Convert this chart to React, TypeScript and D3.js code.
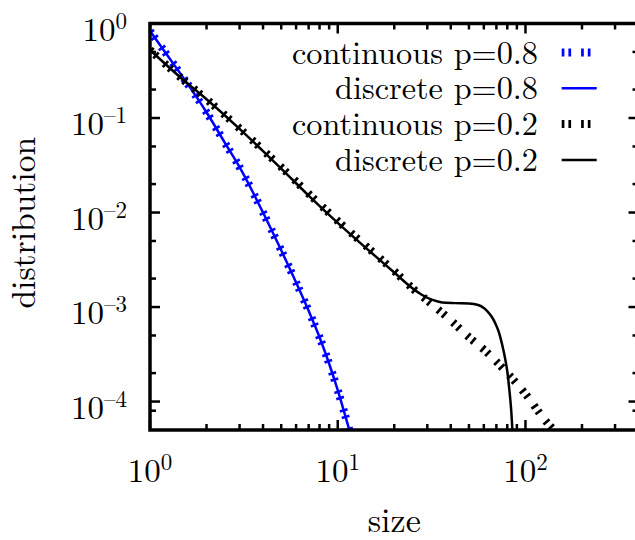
import React from "react";
import * as d3 from "d3";

// size grid and distribution values for p = 0.8
const sizesP08 = [1, 1.25, 1.5, 2, 2.5, 3, 3.5, 4, 5, 6, 7, 8, 9, 10, 11, 12];
const continuousP08 = [0.832, 0.447, 0.269, 0.115, 0.055, 0.0302, 0.017, 0.01, 0.00398, 0.00182, 9.12e-4, 4.79e-4, 2.51e-4, 1.32e-4, 6.92e-5, 3.8e-5];
const discreteP08 = [0.832, 0.447, 0.269, 0.115, 0.055, 0.0302, 0.017, 0.01, 0.00398, 0.00182, 9.12e-4, 4.79e-4, 2.51e-4, 1.32e-4, 6.92e-5, 3.8e-5];

// size grids and distribution values for p = 0.2
const sizesContinuousP02 = [1, 1.5, 2, 3, 4, 5, 7, 10, 15, 20, 25, 30, 40, 50, 60, 80, 100, 130, 150];
const continuousP02 = [0.525, 0.254, 0.158, 0.0776, 0.0457, 0.0302, 0.0158, 0.00813, 0.00398, 0.0024, 0.00158, 0.00117, 7.24e-4, 4.79e-4, 3.55e-4, 2.0e-4, 1.2e-4, 6.03e-5, 4.47e-5];
const sizesDiscreteP02 = [1, 1.5, 2, 3, 4, 5, 7, 10, 15, 20, 25, 28, 32, 36, 42, 50, 56, 60, 63, 66, 69, 72, 75, 78, 80, 82, 84, 85.5];
const discreteP02 = [0.525, 0.254, 0.158, 0.0767, 0.0447, 0.0292, 0.0151, 0.00776, 0.0038, 0.00232, 0.00158, 0.00135, 0.00119, 0.00112, 0.0011, 0.00109, 0.00105, 9.77e-4, 8.91e-4, 7.94e-4, 6.76e-4, 5.5e-4, 4.07e-4, 2.82e-4, 2.09e-4, 1.35e-4, 7.94e-5, 4.47e-5];

// axis tick values
const yMajorTicks = [1, 1e-1, 1e-2, 1e-3, 1e-4];
const yMinorTicks = [0.5, 0.2, 0.05, 0.02, 0.005, 0.002, 5e-4, 2e-4, 8e-5];
const xLabelTicks = [1, 10, 100];

const legendLabels = ["continuous p=0.8", "discrete p=0.8", "continuous p=0.2", "discrete p=0.2"];

const W = 635;
const H = 540;
const left = 150;
const right = 638.5;
const top = 23.5;
const bottom = 430;

const FONT = '"Latin Modern Roman", "Liberation Serif", "DejaVu Serif"';
const DASH = "2.7,4,2.7,10";

// exponent text for a power of ten, with a dash for the minus sign
const exponentOf = (t: number) => {
  const e = Math.round(Math.log10(t));
  return e < 0 ? "\u2013" + String(-e) : String(e);
};

export default function App() {
  const x = d3.scaleLog().domain([1, 400]).range([left, right]);
  const y = d3.scaleLog().domain([5e-5, 1]).range([bottom, top]);

  const line = d3
    .line<[number, number]>()
    .x((d) => x(d[0]))
    .y((d) => y(d[1]))
    .curve(d3.curveMonotoneX);

  const zip = (xs: number[], ys: number[]) => xs.map((v, i) => [v, ys[i]] as [number, number]);

  const series = [
    { data: zip(sizesP08, continuousP08), color: "#0000ff", dashed: true },
    { data: zip(sizesP08, discreteP08), color: "#0000ff", dashed: false },
    { data: zip(sizesContinuousP02, continuousP02), color: "#000000", dashed: true },
    { data: zip(sizesDiscreteP02, discreteP02), color: "#000000", dashed: false },
  ];

  const xTicks = x.ticks().filter((t) => t < 400);
  const isMajor = (t: number) => Math.abs(Math.log10(t) - Math.round(Math.log10(t))) < 1e-9;

  const textStyle = { fontFamily: FONT };

  return (
    <svg width={W} height={H} style={{ position: "absolute", left: 0, top: 0, background: "#fff" }}>
      <defs>
        <clipPath id="plotArea">
          <rect x={left} y={top} width={right - left} height={bottom - top} />
        </clipPath>
      </defs>
      <rect x={0} y={0} width={W} height={H} fill="#fff" />

      {/* curves */}
      <g clipPath="url(#plotArea)" fill="none">
        {series.map((s, i) => (
          <path
            key={i}
            d={line(s.data) || ""}
            stroke={s.color}
            strokeWidth={s.dashed ? 8 : 2.5}
            strokeDasharray={s.dashed ? DASH : undefined}
            strokeLinejoin="round"
          />
        ))}
      </g>

      {/* ticks on all four sides */}
      <g stroke="#000" strokeWidth={2.5}>
        {xTicks.map((t) => {
          const len = isMajor(t) ? 10 : 6;
          return (
            <g key={"x" + t}>
              <line x1={x(t)} x2={x(t)} y1={bottom} y2={bottom - len} />
              <line x1={x(t)} x2={x(t)} y1={top} y2={top + len} />
            </g>
          );
        })}
        {yMajorTicks.map((t) => (
          <g key={"ym" + t}>
            <line x1={left} x2={left + 10} y1={y(t)} y2={y(t)} />
            <line x1={right} x2={right - 10} y1={y(t)} y2={y(t)} />
          </g>
        ))}
        {yMinorTicks.map((t) => (
          <g key={"yn" + t}>
            <line x1={left} x2={left + 6} y1={y(t)} y2={y(t)} />
            <line x1={right} x2={right - 6} y1={y(t)} y2={y(t)} />
          </g>
        ))}
      </g>

      {/* frame */}
      <rect x={left} y={top} width={right - left} height={bottom - top} fill="none" stroke="#000" strokeWidth={3.5} />

      {/* tick labels */}
      <g fill="#000">
        {yMajorTicks.map((t) => (
          <text key={"yl" + t} x={127} y={y(t) + 17} style={{ ...textStyle, fontSize: 33 }} textAnchor="end">
            <tspan>10</tspan>
            <tspan dy={-12} style={{ fontSize: 23 }}>{exponentOf(t)}</tspan>
          </text>
        ))}
        {xLabelTicks.map((t) => (
          <text key={"xl" + t} x={x(t)} y={481.7} style={{ ...textStyle, fontSize: 33 }} textAnchor="middle">
            <tspan>10</tspan>
            <tspan dy={-12} style={{ fontSize: 23 }}>{exponentOf(t)}</tspan>
          </text>
        ))}
      </g>

      {/* axis titles */}
      <text x={(left + right) / 2} y={531.7} style={{ ...textStyle, fontSize: 34 }} textAnchor="middle">
        size
      </text>
      <text
        transform={`translate(35, ${(top + bottom) / 2 - 4}) rotate(-90)`}
        style={{ ...textStyle, fontSize: 33.5 }}
        textAnchor="middle"
      >
        distribution
      </text>

      {/* legend */}
      <g>
        {legendLabels.map((label, i) => {
          const cy = 52.5 + i * 35.8;
          const s = series[i];
          return (
            <g key={label}>
              <text x={538} y={cy + 11} style={{ ...textStyle, fontSize: 32.3 }} textAnchor="end">
                {label}
              </text>
              <line
                x1={561.7}
                x2={596.7}
                y1={cy}
                y2={cy}
                stroke={s.color}
                strokeWidth={s.dashed ? 8 : 2.5}
                strokeDasharray={s.dashed ? DASH : undefined}
              />
            </g>
          );
        })}
      </g>
    </svg>
  );
}
